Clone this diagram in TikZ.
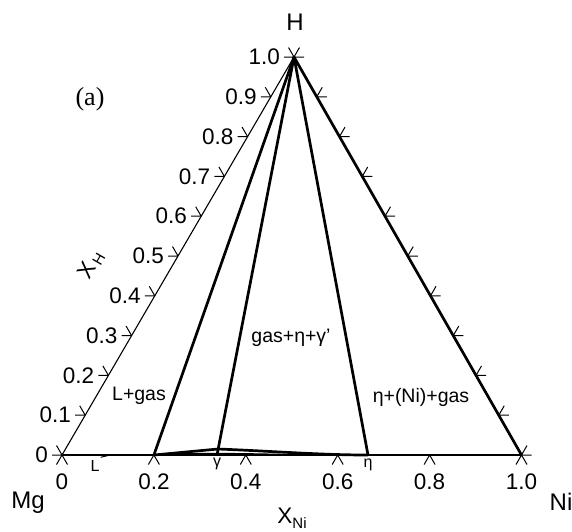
\documentclass[tikz,border=0pt]{standalone}
\usepackage{fontspec}
\setmainfont{Liberation Sans}
\newfontfamily\serifa{Liberation Serif}
\usetikzlibrary{calc}
\begin{document}
\begin{tikzpicture}[x=1pt,y=-1pt,
  thinl/.style={line width=1.1pt},
  medl/.style={line width=1.6pt},
  thickl/.style={line width=2.7pt, line join=round},
  tickl/.style={line width=1pt},
  axnum/.style={font=\fontsize{22.5}{26}\selectfont, inner sep=0pt},
  vlab/.style={font=\fontsize{24}{28}\selectfont, inner sep=0pt},
  reglab/.style={font=\fontsize{19.5}{23}\selectfont, inner sep=0pt},
  phlab/.style={font=\fontsize{16}{19}\selectfont, inner sep=0pt}]
\useasboundingbox (0,0) rectangle (572,531);
\coordinate (Mg) at (62,455);
\coordinate (Ni) at (521.5,455);
\coordinate (H) at (294,57);
% triangle edges
\draw[thinl] (Mg) -- (H);
\draw[thinl] (Mg) -- (Ni);
\draw[thickl] (H) -- (Ni);
% ticks on the two sloping edges
\foreach \i in {0,...,10} {
  \coordinate (L\i) at ($(Mg)!\i/10!(H)$);
  \coordinate (R\i) at ($(Ni)!\i/10!(H)$);
  \draw[tickl] (L\i) -- ++(-10,0) (L\i) -- ++(-5.5,-9.5);
  \draw[tickl] (R\i) -- ++(10,0) (R\i) -- ++(5.5,-9.5);
}
\foreach \i/\t in {0/0,1/0.1,2/0.2,3/0.3,4/0.4,5/0.5,6/0.6,7/0.7,8/0.8,9/0.9,10/1.0}
  \node[axnum, anchor=east] (ln\i) at ($(L\i)+(-14,0)$) {\t};
% bottom ticks and labels
\foreach \i/\t in {0/0,2/0.2,4/0.4,6/0.6,8/0.8,10/1.0} {
  \coordinate (B\i) at ($(Mg)!\i/10!(Ni)$);
  \draw[tickl] (B\i) -- ++(-5.5,9.5) (B\i) -- ++(5.5,9.5);
  \node[axnum] (bn\i) at ($(B\i)+(0,27)$) {\t};
}
% phase boundaries
\coordinate (Gb) at (217,455);
\coordinate (G) at (218,449);
\coordinate (E) at (368,455);
\coordinate (S) at (317,455);
\draw[thickl] (H) -- (B2);
\draw[thickl] (H) -- (Gb);
\draw[thickl] (H) -- (E);
\draw[medl] (Mg) -- (B2);
\draw[medl] (E) -- (Ni);
\draw[thickl] (B2) -- (G) .. controls (270,451) and (320,455) .. (E);
\draw[thinl] (B2) .. controls (200,452) and (260,454) .. (S);
% labels
\node[vlab] (Hl) at (295,22) {H};
\node[vlab] (Mgl) at (28,503) {Mg};
\node[vlab] (Nil) at (561,502) {Ni};
\node[font=\serifa\fontsize{26}{30}\selectfont, inner sep=0pt] (al) at (90,99) {(a)};
\node[axnum, rotate=60] (xh) at (91,265) {X\kern2.5pt\raisebox{-3pt}{\fontsize{15}{17}\selectfont H}};
\node[axnum] (xni) at (292,518) {X\raisebox{-5pt}{\fontsize{15}{17}\selectfont Ni}};
\node[reglab] (r1) at (139,396) {L+gas};
\node[reglab] (r2) at (291,338) {gas+η+γ'};
\node[reglab] (r3) at (421,397) {η+(Ni)+gas};
\node[phlab] (Ll) at (95,466) {L};
\coordinate (Lp) at (110,455);
\draw[tickl] ([xshift=1pt,yshift=3pt]Ll.north east) -- (Lp);
\node[phlab] (gl) at (217,464) {γ};
\node[phlab] (el) at (368,465) {η};
\end{tikzpicture}
\end{document}
